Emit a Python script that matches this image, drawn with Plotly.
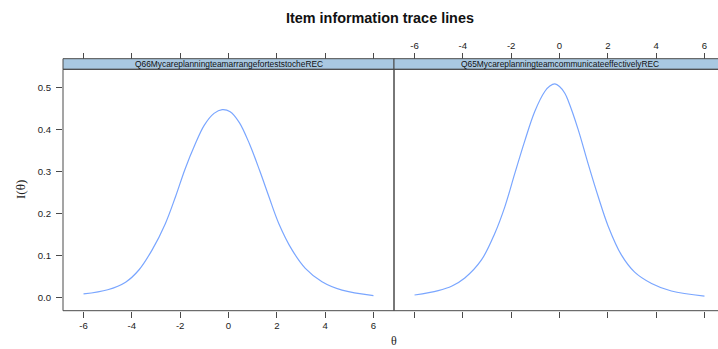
import plotly.graph_objects as go

# Item information curves, read at irregular theta points
theta_q66 = [-6.0, -5.0, -4.26, -3.71, -3.16, -2.61, -2.19, -1.80, -1.40, -1.0, -0.6, -0.26,
             0.07, 0.45, 0.87, 1.30, 1.67, 2.08, 2.63, 3.18, 3.87, 4.70, 6.0]
info_q66 = [0.008, 0.018, 0.036, 0.065, 0.113, 0.176, 0.240, 0.305, 0.362, 0.410, 0.438, 0.447,
            0.442, 0.416, 0.365, 0.300, 0.240, 0.176, 0.113, 0.069, 0.037, 0.017, 0.004]

theta_q65 = [-6.0, -5.02, -4.45, -3.92, -3.23, -2.68, -2.26, -1.85, -1.44, -1.02, -0.61, -0.40, -0.19,
             0.0, 0.22, 0.36, 0.77, 1.18, 1.60, 2.01, 2.56, 3.11, 3.81, 4.63, 6.0]
info_q65 = [0.0055, 0.016, 0.027, 0.046, 0.089, 0.152, 0.216, 0.295, 0.372, 0.443, 0.490, 0.503, 0.508,
            0.502, 0.486, 0.468, 0.400, 0.319, 0.240, 0.170, 0.101, 0.060, 0.033, 0.015, 0.003]

panel_titles = ["Q66MycareplanningteamarrangeforteststocheREC",
                "Q65MycareplanningteamcommunicateeffectivelyREC"]
x_ticks = [-6, -4, -2, 0, 2, 4, 6]
x_tick_text = ["-6", "-4", "-2", "0", "2", "4", "6"]
y_ticks = [0.0, 0.1, 0.2, 0.3, 0.4, 0.5]
y_tick_text = ["0.0", "0.1", "0.2", "0.3", "0.4", "0.5"]

W, H = 718, 349
LINE = "#7aa6ff"
BORDER = "#4a4a4a"
STRIP = "#a9c8e1"
FONT = "Liberation Sans, Arial, sans-serif"

def px(xp):
    return xp / W

def py(yp):
    return 1 - yp / H

left_x = (px(63), px(394))
right_x = (px(394), 1.0)
panel_y = (py(310.7), py(69.3))
strip_top = py(58.7)

fig = go.Figure()
fig.add_trace(go.Scatter(x=theta_q66, y=info_q66, mode="lines", line=dict(color=LINE, width=1.2, shape="spline"),
                         xaxis="x", yaxis="y", showlegend=False, hoverinfo="skip"))
fig.add_trace(go.Scatter(x=theta_q65, y=info_q65, mode="lines", line=dict(color=LINE, width=1.2, shape="spline"),
                         xaxis="x2", yaxis="y2", showlegend=False, hoverinfo="skip"))
for xa, ya in [("x3", "y"), ("x4", "y2")]:
    fig.add_trace(go.Scatter(x=[None], y=[None], xaxis=xa, yaxis=ya, showlegend=False, hoverinfo="skip"))

yr = [-0.0319, 0.5429]
xr_left = [-6.85, 6.85]
xr_right = [-6.85, 6.56]

tickfont = dict(family=FONT, size=9.6, color="#222")
common_x = dict(tickvals=x_ticks, ticktext=x_tick_text, ticks="outside", ticklen=6, tickwidth=1,
                tickcolor=BORDER, showgrid=False, zeroline=False, showline=False, tickfont=tickfont,
                fixedrange=True)

fig.update_layout(
    width=W, height=H, margin=dict(l=0, r=0, t=0, b=0),
    paper_bgcolor="white", plot_bgcolor="white",
    xaxis=dict(domain=left_x, range=xr_left, anchor="y", side="bottom", **common_x),
    xaxis2=dict(domain=right_x, range=xr_right, anchor="y2", side="bottom", showticklabels=False, **common_x),
    xaxis3=dict(overlaying="x", range=xr_left, anchor="free", position=strip_top, side="top",
                showticklabels=False, **common_x),
    xaxis4=dict(overlaying="x2", range=xr_right, anchor="free", position=strip_top, side="top", **common_x),
    yaxis=dict(domain=panel_y, range=yr, anchor="x", tickvals=y_ticks, ticktext=y_tick_text,
               ticks="outside", ticklen=6, tickwidth=1, tickcolor=BORDER, ticklabelstandoff=3,
               showgrid=False, zeroline=False, showline=False, tickfont=tickfont, fixedrange=True),
    yaxis2=dict(domain=panel_y, range=yr, anchor="x2", showticklabels=False, ticks="",
                showgrid=False, zeroline=False, showline=False, fixedrange=True),
)

shapes = []
for (x0, x1) in [left_x, (px(394), px(725))]:
    # strip background and border
    shapes.append(dict(type="rect", xref="paper", yref="paper", x0=x0, x1=x1, y0=panel_y[1], y1=strip_top,
                       fillcolor=STRIP, line=dict(color=BORDER, width=1), layer="above"))
    # panel border
    shapes.append(dict(type="rect", xref="paper", yref="paper", x0=x0, x1=x1, y0=panel_y[0], y1=panel_y[1],
                       fillcolor="rgba(0,0,0,0)", line=dict(color=BORDER, width=1), layer="above"))
fig.update_layout(shapes=shapes)

annotations = [
    dict(text="<b>Item information trace lines</b>", x=px(380), y=py(18), xref="paper", yref="paper",
         showarrow=False, xanchor="center", yanchor="middle", font=dict(family=FONT, size=14.4, color="#111")),
    dict(text="I(θ)", x=px(20), y=py(190), xref="paper", yref="paper", textangle=-90,
         showarrow=False, xanchor="center", yanchor="middle",
         font=dict(family="Liberation Serif, serif", size=13, color="#222")),
    dict(text="θ", x=px(394), y=py(341), xref="paper", yref="paper",
         showarrow=False, xanchor="center", yanchor="middle",
         font=dict(family="Liberation Serif, serif", size=12, color="#222")),
]
for (x0, x1), t in zip([left_x, (px(394), px(725))], panel_titles):
    annotations.append(dict(text=t, x=(x0 + x1) / 2, y=(panel_y[1] + strip_top) / 2, xref="paper", yref="paper",
                            showarrow=False, xanchor="center", yanchor="middle",
                            font=dict(family=FONT, size=8.4, color="#111")))
fig.update_layout(annotations=annotations)

fig.write_html("out.html")
